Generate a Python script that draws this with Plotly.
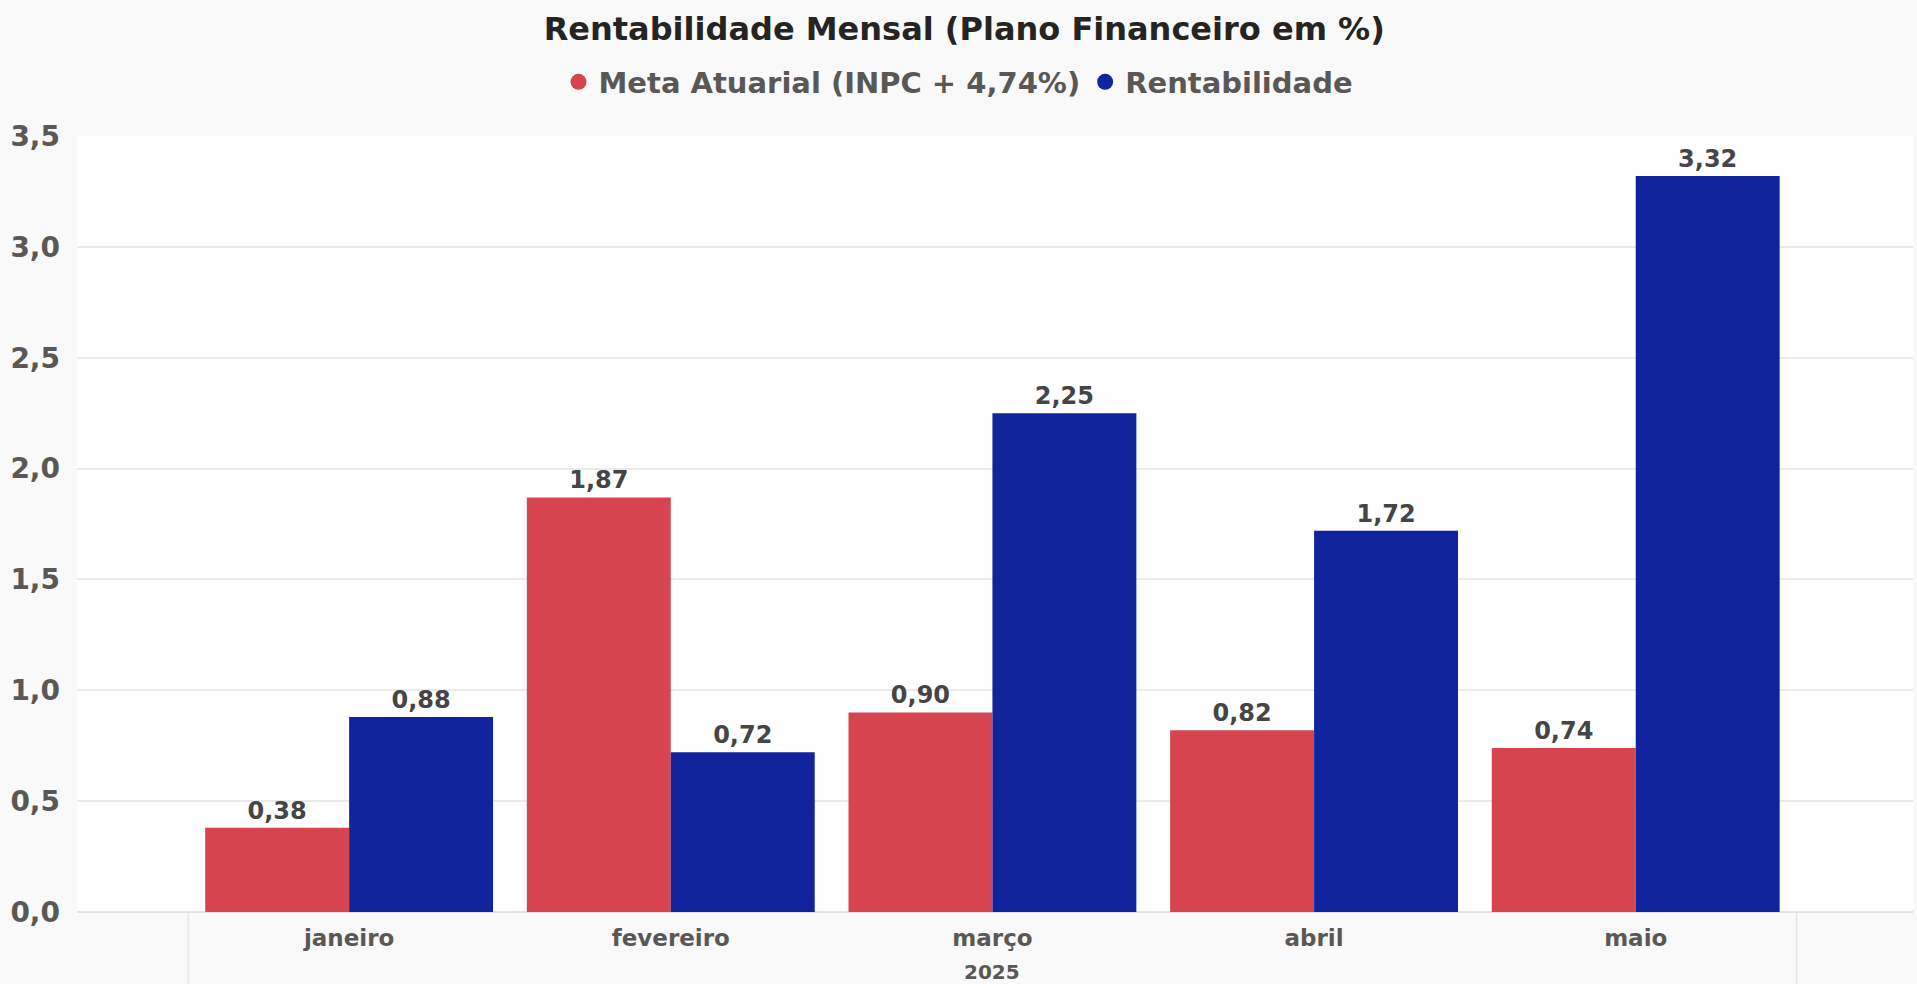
import plotly.graph_objects as go

meses = ['janeiro', 'fevereiro', 'março', 'abril', 'maio']
ano = '2025'
meta_atuarial = [0.38, 1.87, 0.90, 0.82, 0.74]
rentabilidade = [0.88, 0.72, 2.25, 1.72, 3.32]
y_ticks = [0, 0.5, 1.0, 1.5, 2.0, 2.5, 3.0, 3.5]

nome_meta = 'Meta Atuarial (INPC + 4,74%)'
nome_rent = 'Rentabilidade'
cor_meta = '#D6444F'
cor_rent = '#12239E'
fonte = 'DejaVu Sans'
cinza = '#5a5856'

fig = go.Figure()
fig.add_trace(go.Bar(x=meses, y=meta_atuarial, name=nome_meta,
                     marker=dict(color=cor_meta, line=dict(width=0)),
                     texttemplate='%{y:.2f}', textposition='outside',
                     textfont=dict(family=fonte, size=24, color='#454545', weight='bold'),
                     cliponaxis=False, showlegend=False))
fig.add_trace(go.Bar(x=meses, y=rentabilidade, name=nome_rent,
                     marker=dict(color=cor_rent, line=dict(width=0)),
                     texttemplate='%{y:.2f}', textposition='outside',
                     textfont=dict(family=fonte, size=24, color='#454545', weight='bold'),
                     cliponaxis=False, showlegend=False))

# legenda com marcadores circulares
for nome, cor in [(nome_meta, cor_meta), (nome_rent, cor_rent)]:
  fig.add_trace(go.Scatter(x=[None], y=[None], mode='markers', name=nome,
                           marker=dict(color=cor, size=16, symbol='circle')))

# separadores do eixo x (estilo hierarquico)
for xv in [-0.5, len(meses) - 0.5]:
  fig.add_shape(type='line', xref='x', yref='paper', x0=xv, x1=xv, y0=0, y1=-0.095,
                line=dict(color='#e6e6e6', width=1.5), layer='below')

fig.add_annotation(text=ano, xref='x', yref='paper', x=(len(meses) - 1) / 2, y=-0.077,
                   showarrow=False, yanchor='middle',
                   font=dict(family=fonte, size=20, color=cinza, weight='bold'))

fig.update_layout(
  width=1917, height=984,
  paper_bgcolor='#f9f9f9', plot_bgcolor='white',
  separators=',.',
  barmode='group', bargap=0.105, bargroupgap=0,
  margin=dict(l=77, r=4, t=136, b=72, autoexpand=False),
  title=dict(text='Rentabilidade Mensal (Plano Financeiro em %)',
             xref='container', x=0.503, xanchor='center',
             yref='container', y=1 - 29 / 984, yanchor='middle',
             font=dict(family=fonte, size=32, color='#252423', weight='bold')),
  legend=dict(orientation='h', xref='container', x=0.5, xanchor='center',
              yref='container', y=1 - 82 / 984, yanchor='middle',
              bgcolor='rgba(0,0,0,0)', itemwidth=30, tracegroupgap=0,
              font=dict(family=fonte, size=29, color=cinza, weight='bold')),
  xaxis=dict(range=[-0.846, 4.862], showgrid=False, showline=False, ticks='',
             ticklabelstandoff=10,
             tickfont=dict(family=fonte, size=23, color=cinza, weight='bold')),
  yaxis=dict(range=[0, 3.5], tickvals=y_ticks, tickformat='.1f',
             showgrid=True, gridcolor='#ebebeb', gridwidth=1.5,
             zeroline=True, zerolinecolor='#e2e2e2', zerolinewidth=2,
             ticks='', ticklabelstandoff=16,
             tickfont=dict(family=fonte, size=28, color=cinza, weight='bold')),
)

fig.write_html('out.html', config={'displayModeBar': False},
               post_script="document.body.style.margin='0';document.body.style.overflow='hidden';")
